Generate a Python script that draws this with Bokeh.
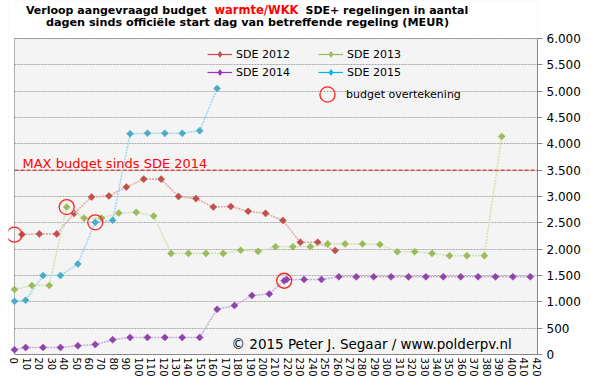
import math
from bokeh.plotting import figure
from bokeh.models import (Range1d, FixedTicker, Span, Label, Legend, LegendItem,
                          BoxAnnotation)
from bokeh.embed import file_html
from bokeh.resources import INLINE

# ---------------- data ----------------
days_2012 = [6, 20, 34, 48, 62, 76, 90, 104, 118, 132, 146, 160, 174, 188, 202, 216, 230, 244, 258]
budget_2012 = [2280, 2290, 2290, 2680, 2990, 3010, 3180, 3330, 3330, 3000, 2960, 2800, 2810, 2720,
               2680, 2545, 2130, 2130, 1975]

days_2013 = [0, 14, 28, 42, 56, 70, 84, 98, 112, 126, 140, 154, 168, 182, 196, 210, 224, 238, 252,
             266, 280, 294, 308, 322, 336, 350, 364, 378, 392]
budget_2013 = [1234, 1310, 1310, 2800, 2590, 2590, 2685, 2700, 2630, 1920, 1920, 1920, 1920, 1978,
               1958, 2047, 2047, 2047, 2100, 2100, 2100, 2090, 1952, 1952, 1920, 1876, 1876, 1876, 4140]

days_2014 = [0, 9, 23, 37, 51, 65, 79, 93, 107, 121, 135, 149, 163, 177, 191, 205, 217, 219, 233,
             247, 261, 275, 289, 303, 317, 331, 345, 359, 373, 387, 401, 415]
budget_2014 = [90, 134, 134, 134, 166, 190, 280, 324, 324, 324, 324, 324, 858, 929, 1120, 1150, 1400,
               1425, 1425, 1425, 1475, 1475, 1475, 1475, 1475, 1475, 1475, 1475, 1475, 1475, 1475, 1475]

days_2015 = [0, 9, 23, 37, 51, 65, 79, 93, 107, 121, 135, 149, 163]
budget_2015 = [1010, 1030, 1500, 1500, 1720, 2510, 2550, 4190, 4200, 4200, 4200, 4250, 5050]

overtekening_days = [0, 42, 65, 217]
overtekening_budget = [2275, 2800, 2510, 1400]

max_budget = 3500
y_max = 6000

x_ticks = list(range(0, 421, 10))
y_ticks = [0, 500, 1000, 1500, 2000, 2500, 3000, 3500, 4000, 4500, 5000, 5500, 6000]
y_tick_labels = ["0", "500", "1.000", "1.500", "2.000", "2.500", "3.000", "3.500",
                 "4.000", "4.500", "5.000", "5.500", "6.000"]

series_names = ["SDE 2012", "SDE 2013", "SDE 2014", "SDE 2015"]
title_line1 = ["Verloop aangevraagd budget", "warmte/WKK", "SDE+ regelingen in aantal"]
title_line2 = "dagen sinds officiële start dag van betreffende regeling (MEUR)"
max_text = "MAX budget sinds SDE 2014"
copyright_text = "© 2015 Peter J. Segaar / www.polderpv.nl"

# ---------------- styling ----------------
FONT = "DejaVu Sans"
marker_colors = ["#C0504D", "#9BBB59", "#8E44AD", "#4BACC6"]
link_colors = ["#E3A9A7", "#D2E2B4", "#C7AEDA", "#9FD8EE"]
legend_colors = ["#C0504D", "#9BBB59", "#9933CC", "#00B0F0"]

# frame: left edge 6 px left of day 0, top extended above 6000 to hold the title
p = figure(width=591, height=381, output_backend="svg", toolbar_location=None,
           x_range=Range1d(-4.8, 420.8), y_range=Range1d(0, 6721.5),
           y_axis_location="right",
           min_border_left=8, min_border_right=54, min_border_top=0, min_border_bottom=27,
           background_fill_color="#F4F4F4", border_fill_color="white",
           outline_line_color=None)

# grid
p.xgrid.grid_line_color = None
p.ygrid.ticker = FixedTicker(ticks=y_ticks)
p.ygrid.grid_line_color = "#A8A8A8"
p.ygrid.grid_line_dash = "2 1"
p.ygrid.grid_line_width = 1

max_line = Span(location=max_budget, dimension="width", line_color="#E00000", line_width=1,
                line_dash="4 2", level="underlay")
p.add_layout(max_line)
strip = BoxAnnotation(right=0, fill_color="white", fill_alpha=1, line_color=None, level="underlay")
topbox = BoxAnnotation(bottom=y_max, fill_color="white", fill_alpha=1, line_color=None, level="underlay")
p.add_layout(strip)
p.add_layout(topbox)
outline = BoxAnnotation(left=0, top=y_max, fill_alpha=0, line_color="black", line_width=1,
                        level="underlay")
p.add_layout(outline)

# axes
xa = p.xaxis[0]
xa.ticker = FixedTicker(ticks=x_ticks)
xa.bounds = (0, 420.8)
xa.major_label_orientation = "vertical"
xa.axis_line_color = "#868686"
xa.major_tick_line_color = None
xa.minor_tick_line_color = None
xa.major_tick_out = 0
xa.major_tick_in = 0
xa.major_label_standoff = 3
xa.major_label_text_font = FONT
xa.major_label_text_font_size = "10px"
xa.major_label_text_color = "black"

ya = p.yaxis[0]
ya.ticker = FixedTicker(ticks=y_ticks)
ya.bounds = (0, y_max)
ya.major_label_overrides = {t: l for t, l in zip(y_ticks, y_tick_labels)}
ya.axis_line_color = "#868686"
ya.major_tick_line_color = "#868686"
ya.minor_tick_line_color = None
ya.major_tick_out = 5
ya.major_tick_in = 0
ya.major_label_standoff = 4
ya.major_label_text_font = FONT
ya.major_label_text_font_size = "12px"
ya.major_label_text_color = "black"

# series
all_days = [days_2012, days_2013, days_2014, days_2015]
all_vals = [budget_2012, budget_2013, budget_2014, budget_2015]
legend_renderers = []
for d, v, mc, lc, gc in zip(all_days, all_vals, marker_colors, link_colors, legend_colors):
    p.line(d, v, line_color=lc, line_width=1.6, line_dash="2 1")
    p.scatter(d, v, marker="square", angle=math.pi / 4, size=5, fill_color=mc, line_color=mc,
              line_width=0.5)
    nan = [float("nan")]
    lr = p.line(nan, nan, line_color=gc, line_width=1.2)
    mr = p.scatter(nan, nan, marker="diamond", fill_color=gc, line_color=gc)
    legend_renderers.append([lr, mr])

circ = p.scatter(overtekening_days, overtekening_budget, marker="circle", size=15,
                 fill_color=None, line_color="#FF2020", line_width=1.3)

# legends
def make_legend(items, loc, gw, gh, standoff):
    return Legend(items=items, location=loc, orientation="vertical",
                  glyph_width=gw, glyph_height=gh, label_height=gh, spacing=4,
                  label_standoff=standoff, padding=0, margin=0,
                  border_line_color=None, background_fill_alpha=0,
                  label_text_font=FONT, label_text_font_size="11px", label_text_color="black")

leg1 = make_legend([LegendItem(label=series_names[0], renderers=legend_renderers[0]),
                    LegendItem(label=series_names[2], renderers=legend_renderers[2])],
                   (199, 275), 25, 14, 4)
leg2 = make_legend([LegendItem(label=series_names[1], renderers=legend_renderers[1]),
                    LegendItem(label=series_names[3], renderers=legend_renderers[3])],
                   (310, 275), 25, 14, 4)
leg3 = make_legend([LegendItem(label="budget overtekening", renderers=[circ])],
                   (300, 241), 38, 38, 0)
p.add_layout(leg1)
p.add_layout(leg2)
p.add_layout(leg3)

# texts (screen units relative to the frame's bottom-left)
def title_label(x, y, text, align, color, size):
    return Label(x=x, y=y, x_units="screen", y_units="screen", text=text,
                 text_align=align, text_baseline="alphabetic", text_font=FONT,
                 text_font_size=size, text_font_style="bold", text_color=color)

p.add_layout(title_label(198, 344.5, title_line1[0], "right", "black", "11px"))
p.add_layout(title_label(248, 344.5, title_line1[1], "center", "#FF0000", "11.5px"))
p.add_layout(title_label(297, 344.5, title_line1[2], "left", "black", "11px"))
p.add_layout(title_label(239, 332, title_line2, "center", "black", "11.2px"))

p.add_layout(Label(x=14, y=191.5, x_units="screen", y_units="screen",
                   text=max_text, text_align="left", text_baseline="alphabetic",
                   text_font=FONT, text_font_size="13px", text_color="#FF0000"))
p.add_layout(Label(x=223, y=11, x_units="screen", y_units="screen", text=copyright_text,
                   text_align="left", text_baseline="alphabetic",
                   text_font=FONT, text_font_size="13.5px", text_color="black"))

open("out.html", "w").write(file_html(p, INLINE))
